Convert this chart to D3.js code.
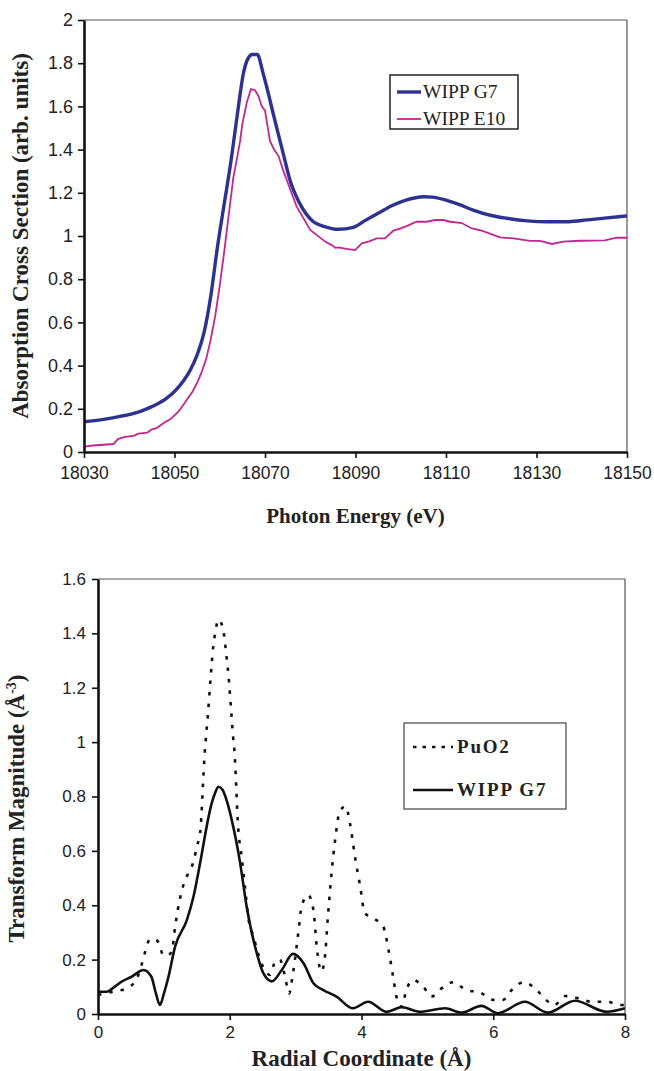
<!DOCTYPE html>
<meta charset="utf-8">
<script src="https://d3js.org/d3.v7.min.js"></script>
<style>
  body{margin:0;background:#fff;}
  .tick text{font-family:"Liberation Sans",Arial,sans-serif;fill:#222;}
  .title{font-family:"Liberation Serif","Times New Roman",serif;font-weight:bold;fill:#222;}
</style>
<body>
<div id="chart"></div>
<script>
// ---- top chart data (XANES) ----
const g7Energy=[18030,18034,18038,18042,18045,18048,18050,18052,18053.5,18055,18056.5,18058,18059.5,18061,18062.5,18064,18065.2,18066.2,18067.2,18068.3,18069.5,18070.5,18072,18074.4,18075.5,18077.7,18080.7,18083,18086.2,18089.5,18092,18095,18098,18101,18105,18107,18109.4,18113,18116,18120,18123.4,18128,18132.3,18136.7,18140,18145,18150];
const g7Abs=[0.14,0.15,0.165,0.185,0.21,0.245,0.28,0.33,0.38,0.45,0.55,0.72,0.95,1.15,1.35,1.58,1.75,1.82,1.84,1.84,1.76,1.68,1.55,1.35,1.26,1.15,1.066,1.045,1.031,1.04,1.07,1.105,1.14,1.165,1.182,1.18,1.17,1.145,1.12,1.095,1.082,1.07,1.066,1.066,1.072,1.083,1.093];
const e10Energy=[18030,18032,18036.5,18037.5,18039,18041,18042,18044,18045,18046,18047,18048,18049,18050,18051,18052,18053,18054,18055,18056,18057,18058,18059,18060,18061,18062,18063,18064,18064.5,18065,18066,18066.9,18067.8,18068.5,18069.3,18070,18071.1,18072,18073,18074,18075.5,18077,18080,18083.3,18084.5,18085,18085.5,18086.2,18088,18089.9,18091.4,18093,18094.7,18096.5,18098.4,18100,18101.3,18103.5,18105.7,18107.6,18109.4,18110.9,18113.5,18115.7,18117.9,18121.9,18124.9,18128.6,18130.8,18133.4,18135.9,18139.6,18145.1,18147.7,18150];
const e10Abs=[0.025,0.03,0.037,0.06,0.07,0.075,0.085,0.09,0.105,0.11,0.125,0.14,0.15,0.17,0.19,0.22,0.25,0.28,0.32,0.37,0.43,0.52,0.63,0.77,0.93,1.1,1.27,1.38,1.44,1.52,1.62,1.68,1.675,1.65,1.6,1.58,1.44,1.4,1.37,1.305,1.22,1.136,1.028,0.974,0.96,0.955,0.945,0.947,0.94,0.935,0.966,0.975,0.989,0.989,1.025,1.035,1.046,1.066,1.066,1.074,1.074,1.066,1.06,1.035,1.025,0.994,0.989,0.977,0.977,0.963,0.974,0.978,0.98,0.992,0.992];
const energyTicks=[18030,18050,18070,18090,18110,18130,18150];
const absTicks=[0,0.2,0.4,0.6,0.8,1,1.2,1.4,1.6,1.8,2];
const topSeries=["WIPP G7","WIPP E10"];

// ---- bottom chart data (Fourier transform) ----
const puo2R=[0,0.23,0.44,0.59,0.66,0.71,0.79,0.86,0.92,0.99,1.05,1.12,1.17,1.24,1.29,1.37,1.45,1.5,1.55,1.62,1.67,1.7,1.73,1.75,1.78,1.83,1.9,1.95,1.99,2.02,2.05,2.07,2.13,2.18,2.23,2.28,2.36,2.46,2.61,2.69,2.76,2.84,2.9,2.96,3.04,3.09,3.19,3.27,3.32,3.39,3.44,3.49,3.55,3.6,3.67,3.76,3.82,3.9,3.98,4.05,4.18,4.33,4.41,4.48,4.53,4.61,4.68,4.78,4.94,5.06,5.22,5.39,5.59,5.8,6,6.15,6.29,6.46,6.66,6.8,6.93,7.09,7.29,7.49,7.72,7.95,8];
const puo2Mag=[0.07,0.082,0.095,0.131,0.18,0.224,0.275,0.275,0.263,0.217,0.215,0.23,0.32,0.42,0.469,0.518,0.561,0.616,0.666,0.96,1.107,1.205,1.3,1.353,1.403,1.451,1.414,1.316,1.218,1.12,1.021,0.972,0.678,0.58,0.469,0.358,0.285,0.2,0.144,0.193,0.2,0.137,0.076,0.15,0.297,0.395,0.438,0.383,0.248,0.156,0.2,0.358,0.53,0.641,0.745,0.764,0.708,0.58,0.469,0.371,0.352,0.321,0.236,0.137,0.064,0.027,0.088,0.125,0.1,0.064,0.095,0.117,0.088,0.079,0.052,0.052,0.091,0.117,0.088,0.052,0.033,0.066,0.058,0.045,0.045,0.033,0.035];
const g7R=[0,0.13,0.25,0.36,0.51,0.69,0.81,0.88,0.94,1,1.07,1.17,1.35,1.45,1.55,1.65,1.72,1.78,1.83,1.89,1.96,2.03,2.15,2.26,2.41,2.51,2.64,2.79,2.96,3.12,3.27,3.42,3.62,3.87,4.1,4.38,4.61,4.89,5.27,5.52,5.82,6.07,6.48,6.83,7.24,7.72,8];
const g7Mag=[0.082,0.082,0.1,0.119,0.137,0.162,0.137,0.075,0.033,0.075,0.137,0.248,0.346,0.432,0.555,0.69,0.77,0.815,0.836,0.825,0.78,0.714,0.567,0.39,0.224,0.15,0.12,0.162,0.221,0.187,0.113,0.088,0.064,0.021,0.045,0.008,0.025,0.008,0.021,0.005,0.03,0.003,0.045,0.005,0.049,0.008,0.021];
const radialTicks=[0,2,4,6,8];
const magTicks=[0,0.2,0.4,0.6,0.8,1,1.2,1.4,1.6];
const bottomSeries=["PuO2","WIPP G7"];

const W=654,H=1071;
const svg=d3.select("#chart").append("svg")
    .attr("width",W).attr("height",H);

function frame(g,x,y){
    const [x0,x1]=x.range(),[y0,y1]=y.range();
    g.append("line").attr("x1",x0).attr("x2",x1).attr("y1",y1).attr("y2",y1)
        .attr("stroke","#555").attr("stroke-width",1.2);
    g.append("line").attr("x1",x1).attr("x2",x1).attr("y1",y1).attr("y2",y0)
        .attr("stroke","#555").attr("stroke-width",1.2);
}
function styleAxis(a,size){
    a.select(".domain").attr("stroke","#111").attr("stroke-width",2.6);
    a.selectAll(".tick line").attr("stroke","#111").attr("stroke-width",1.6);
    a.selectAll(".tick text").style("font-size",size+"px");
}

// ===== top chart =====
const top1={l:84,r:627,t:20,b:452};
const x1=d3.scaleLinear().domain([18030,18150]).range([top1.l,top1.r]);
const y1=d3.scaleLinear().domain([0,2]).range([top1.b,top1.t]);
const g1=svg.append("g");
frame(g1,x1,y1);

const line1=d3.line().x(d=>x1(d[0])).y(d=>y1(d[1]));
g1.append("path").datum(e10Energy.map((e,i)=>[e,e10Abs[i]]))
    .attr("d",line1).attr("fill","none").attr("stroke","#C4258F").attr("stroke-width",1.8);
g1.append("path").datum(g7Energy.map((e,i)=>[e,g7Abs[i]]))
    .attr("d",line1.curve(d3.curveMonotoneX)).attr("fill","none").attr("stroke","#2E3192").attr("stroke-width",3.4);

const ax1=g1.append("g").attr("transform",`translate(0,${top1.b})`)
    .call(d3.axisBottom(x1).tickValues(energyTicks).tickFormat(d3.format("d")).tickSize(6).tickPadding(9).tickSizeOuter(0));
styleAxis(ax1,17.5);
const ay1=g1.append("g").attr("transform",`translate(${top1.l},0)`)
    .call(d3.axisLeft(y1).tickValues(absTicks).tickFormat(d=>d).tickSize(6).tickPadding(5).tickSizeOuter(0));
styleAxis(ay1,18);

g1.append("text").attr("class","title").attr("x",(top1.l+top1.r)/2).attr("y",523)
    .attr("text-anchor","middle").style("font-size","21px").text("Photon Energy (eV)");
g1.append("text").attr("class","title")
    .attr("transform",`translate(28,${(top1.t+top1.b)/2}) rotate(-90)`)
    .attr("text-anchor","middle").style("font-size","23px").text("Absorption Cross Section (arb. units)");

// legend top
const lg1=g1.append("g");
lg1.append("rect").attr("x",390).attr("y",75).attr("width",128).attr("height",54)
    .attr("fill","#fff").attr("stroke","#222").attr("stroke-width",1.5);
const topColors=["#2E3192","#C4258F"],topWidths=[3.4,1.8];
topSeries.forEach((s,i)=>{
    const yy=92+i*27;
    lg1.append("line").attr("x1",397).attr("x2",421).attr("y1",yy).attr("y2",yy)
        .attr("stroke",topColors[i]).attr("stroke-width",topWidths[i]);
    lg1.append("text").attr("x",423).attr("y",yy+6)
        .style("font-family","'Liberation Serif','Times New Roman',serif").style("font-size","19.5px")
        .attr("fill","#222").text(s);
});

// ===== bottom chart =====
const bot={l:98,r:625,t:579,b:1014};
const x2=d3.scaleLinear().domain([0,8]).range([bot.l,bot.r]);
const y2=d3.scaleLinear().domain([0,1.6]).range([bot.b,bot.t]);
const g2=svg.append("g");
frame(g2,x2,y2);

const line2=d3.line().x(d=>x2(d[0])).y(d=>y2(d[1])).curve(d3.curveMonotoneX);
g2.append("path").datum(puo2R.map((r,i)=>[r,puo2Mag[i]]))
    .attr("d",line2).attr("fill","none").attr("stroke","#111").attr("stroke-width",2.6)
    .attr("stroke-dasharray","3.5,8");
g2.append("path").datum(g7R.map((r,i)=>[r,g7Mag[i]]))
    .attr("d",line2).attr("fill","none").attr("stroke","#111").attr("stroke-width",2.6);

const ax2=g2.append("g").attr("transform",`translate(0,${bot.b})`)
    .call(d3.axisBottom(x2).tickValues(radialTicks).tickSize(6).tickPadding(6).tickSizeOuter(0));
styleAxis(ax2,17);
const ay2=g2.append("g").attr("transform",`translate(${bot.l},0)`)
    .call(d3.axisLeft(y2).tickValues(magTicks).tickFormat(d=>d).tickSize(6).tickPadding(6).tickSizeOuter(0));
styleAxis(ay2,17);

g2.append("text").attr("class","title").attr("x",(bot.l+bot.r)/2).attr("y",1066)
    .attr("text-anchor","middle").style("font-size","23px").text("Radial Coordinate (Å)");
const yt=g2.append("text").attr("class","title")
    .attr("transform",`translate(24,${(bot.t+bot.b)/2+12}) rotate(-90)`)
    .attr("text-anchor","middle").style("font-size","23px");
yt.append("tspan").text("Transform Magnitude (Å");
yt.append("tspan").attr("dy",-8).style("font-size","14px").text("-3");
yt.append("tspan").attr("dy",8).text(")");

// legend bottom
const lg2=g2.append("g");
lg2.append("rect").attr("x",404).attr("y",723).attr("width",162).attr("height",86)
    .attr("fill","#fff").attr("stroke","#444").attr("stroke-width",1.2);
bottomSeries.forEach((s,i)=>{
    const yy=747+i*43;
    lg2.append("line").attr("x1",413).attr("x2",453).attr("y1",yy).attr("y2",yy)
        .attr("stroke","#111").attr("stroke-width",2.6)
        .attr("stroke-dasharray",i===0?"3.5,6":null);
    lg2.append("text").attr("x",457).attr("y",yy+6)
        .style("font-family","'Liberation Serif','Times New Roman',serif").style("font-weight","bold")
        .style("font-size","19px").style("letter-spacing","1.8px")
        .attr("fill","#222").text(s);
});
</script>
</body>
